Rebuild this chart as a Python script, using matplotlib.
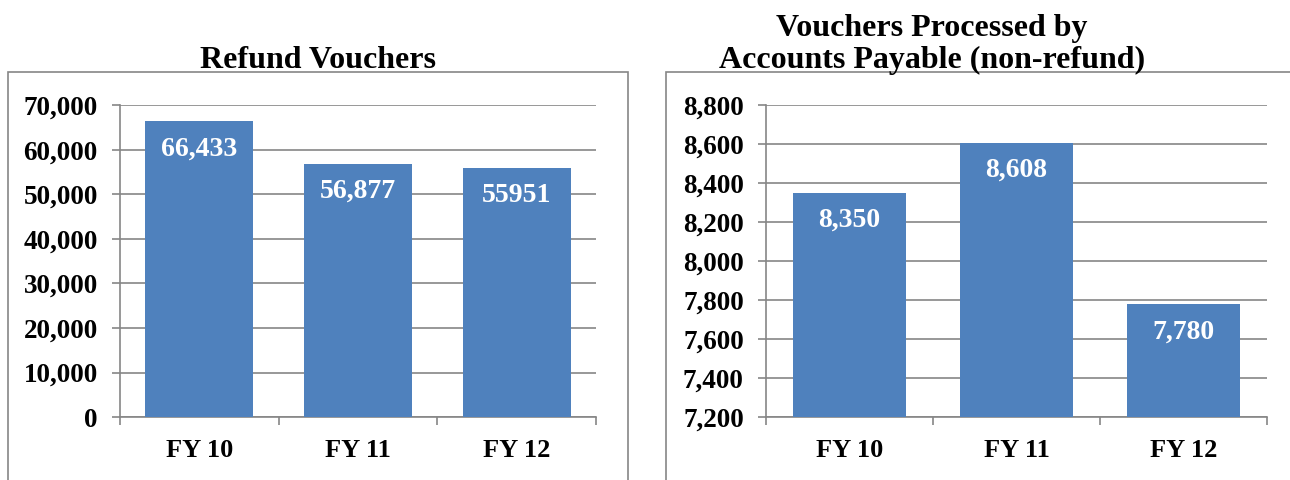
import matplotlib
matplotlib.use('Agg')
import matplotlib.pyplot as plt
from matplotlib.patches import Rectangle
from matplotlib.ticker import FuncFormatter

categories = ['FY 10', 'FY 11', 'FY 12']
refund_values = [66433, 56877, 55951]
refund_labels = ['66,433', '56,877', '55951']
ap_values = [8350, 8608, 7780]
ap_labels = ['8,350', '8,608', '7,780']

barcolor = '#4F81BD'
gridcolor = '#868686'

plt.rcParams['font.family'] = 'Liberation Serif'
plt.rcParams['font.weight'] = 'bold'

fig = plt.figure(figsize=(12.9, 4.8), dpi=100)

# outer frames of the two chart boxes
fig.add_artist(Rectangle((0.0062, -0.01), 0.4806, 0.86, transform=fig.transFigure,
                         fill=False, edgecolor=gridcolor, linewidth=1.2))
fig.add_artist(Rectangle((0.5163, -0.01), 0.49, 0.86, transform=fig.transFigure,
                         fill=False, edgecolor=gridcolor, linewidth=1.2))


def draw(ax, values, labels, ymin, ymax, step):
    x = range(len(categories))
    ax.bar(x, [v - ymin for v in values], bottom=ymin, width=0.68, color=barcolor, zorder=3)
    ax.set_xlim(-0.5, len(categories) - 0.5)
    ax.set_ylim(ymin, ymax)
    ax.set_yticks(range(ymin, ymax + 1, step))
    ax.yaxis.set_major_formatter(FuncFormatter(lambda v, p: '{:,}'.format(int(v))))
    ax.set_xticks(list(x))
    ax.set_xticklabels(categories)
    ax.set_xticks([i - 0.5 for i in range(len(categories) + 1)], minor=True)
    ax.tick_params(axis='x', which='major', length=0, pad=16, labelsize=19)
    ax.tick_params(axis='x', which='minor', length=6, color=gridcolor, width=1.2)
    ax.tick_params(axis='y', length=6, color=gridcolor, width=1.2, pad=10, labelsize=19.5)
    ax.grid(axis='y', color=gridcolor, linewidth=1.2, zorder=0)
    for s in ['top', 'right']:
        ax.spines[s].set_visible(False)
    for s in ['left', 'bottom']:
        ax.spines[s].set_color(gridcolor)
        ax.spines[s].set_linewidth(1.2)
    for i, v in enumerate(values):
        ax.annotate(labels[i], (i, v), xytext=(0, -20), textcoords='offset points',
                    ha='center', va='center', color='white', fontsize=20, fontweight='bold')


ax1 = fig.add_axes([0.0930, 0.131, 0.369, 0.650])
draw(ax1, refund_values, refund_labels, 0, 70000, 10000)
fig.text(318 / 1290, 1 - 68 / 480, 'Refund Vouchers', ha='center', va='baseline',
         fontsize=23, fontweight='bold')

ax2 = fig.add_axes([0.5938, 0.131, 0.3884, 0.650])
draw(ax2, ap_values, ap_labels, 7200, 8800, 200)
fig.text(932 / 1290, 1 - 68 / 480, 'Vouchers Processed by\nAccounts Payable (non-refund)',
         ha='center', va='baseline', fontsize=23, fontweight='bold', linespacing=1.13,
         multialignment='center')

fig.savefig('out.png', dpi=100)
